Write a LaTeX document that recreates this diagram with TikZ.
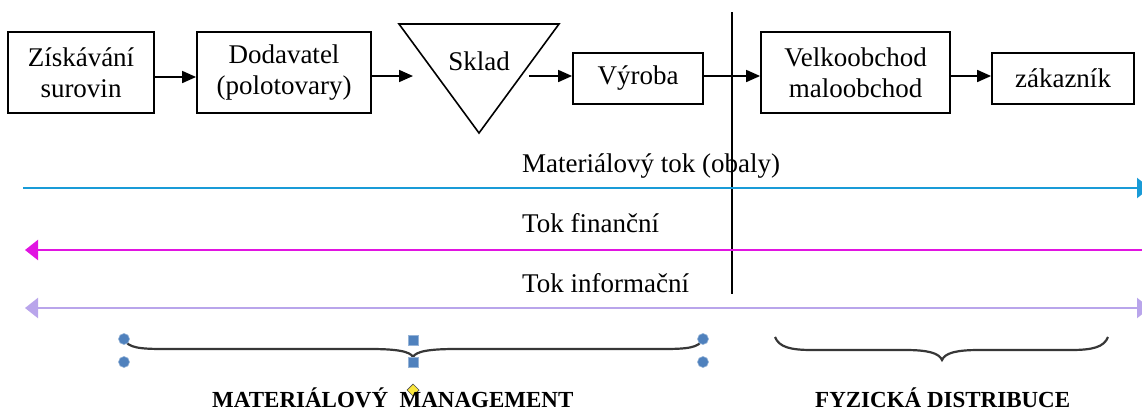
\documentclass[tikz,border=0pt]{standalone}
\usepackage{fontspec}
\setmainfont{Liberation Serif}
\usetikzlibrary{arrows.meta}
\definecolor{flowblue}{RGB}{25,155,215}
\definecolor{flowmag}{RGB}{225,20,225}
\definecolor{flowlav}{RGB}{185,165,235}
\definecolor{handleblue}{RGB}{79,129,189}
\definecolor{handleyellow}{RGB}{250,230,60}
\definecolor{bracegray}{RGB}{55,55,55}
\begin{document}
\begin{tikzpicture}[x=1pt,y=-1pt,
  txt/.style={font=\fontsize{27}{31}\selectfont, inner sep=0pt},
  stepbox/.style={draw, line width=1.8pt, inner sep=0pt, align=center,
    font=\fontsize{27}{31}\selectfont},
  arr/.style={line width=1.7pt, -{Triangle[length=14pt,width=12pt]}},
  flow/.style={line width=2.2pt},
  sectlabel/.style={font=\bfseries\fontsize{23}{26}\selectfont, inner sep=0pt},
  bracepath/.style={draw=bracegray, line width=2.2pt},
  handle/.style={fill=handleblue, draw=handleblue!60!white, line width=0.6pt}]
\useasboundingbox (0,0) rectangle (1142,410);

% process chain
\node[stepbox, minimum width=146pt, minimum height=81pt] (zisk) at (81,72.5) {Získávání\\surovin};
\node[stepbox, minimum width=174pt, minimum height=81pt] (dod) at (284,72.5) {Dodavatel\\(polotovary)};
\draw[line width=1.6pt] (399,24) -- (559,24) -- (479,133) -- cycle;
\node[txt, anchor=base] (sklad) at (479,70) {Sklad};
\coordinate (skin) at (413,76);
\coordinate (skout) at (529,76);
\node[stepbox, minimum width=130pt, minimum height=51pt] (vyr) at (638,78.5) {Výroba};
\node[stepbox, minimum width=189pt, minimum height=81pt] (velk) at (855.5,72.5) {Velkoobchod\\maloobchod};
\node[stepbox, minimum width=142pt, minimum height=51pt] (zak) at (1063,78.5) {zákazník};

\draw[arr] (zisk.east |- 0,77) -- (dod.west |- 0,77);
\draw[arr] (dod.east |- skin) -- (skin);
\draw[arr] (skout) -- (vyr.west |- skout);
\draw[arr] (vyr.east |- skout) -- (velk.west |- skout);
\draw[arr] (velk.east |- skout) -- (zak.west |- skout);

% divider between the two parts of the chain
\coordinate (divtop) at (732,12);
\coordinate (divbot) at (732,294);
\draw[line width=1.5pt] (divtop) -- (divbot);

% flows
\coordinate (bl) at (23,188);  \coordinate (br) at (1150,188);
\coordinate (ml) at (25,250);  \coordinate (mr) at (1145,250);
\coordinate (ll) at (25,308);  \coordinate (lr) at (1150,308);
\draw[flow, draw=flowblue, -{Triangle[length=13pt,width=20pt]}] (bl) -- (br);
\draw[flow, draw=flowmag, {Triangle[length=13pt,width=20pt]}-] (ml) -- (mr);
\draw[flow, draw=flowlav, {Triangle[length=13pt,width=20pt]}-{Triangle[length=13pt,width=20pt]}] (ll) -- (lr);

\node[txt, anchor=base west] (lmat) at (522,172) {Materiálový tok (obaly)};
\node[txt, anchor=base west] (lfin) at (522,232) {Tok finanční};
\node[txt, anchor=base west] (linf) at (522,292) {Tok informační};

% braces
\path[bracepath] (124,339) .. controls (128,348) and (140,349) .. (165,349)
  -- (370,349) .. controls (395,349) and (410,351) .. (413,357)
  .. controls (416,351) and (431,349) .. (456,349)
  -- (662,349) .. controls (687,349) and (699,348) .. (703,339);
\path[bracepath] (775,337) .. controls (779,347) and (790,350) .. (812,350)
  -- (905,350) .. controls (928,350) and (939,353) .. (942,360)
  .. controls (945,353) and (956,350) .. (979,350)
  -- (1071,350) .. controls (1093,350) and (1104,347) .. (1108,337);

% selection handles on the left brace
\path[handle] (124,339) circle (5.5pt) (124,362) circle (5.5pt)
  (703,339) circle (5.5pt) (703,362) circle (5.5pt);
\path[handle] (408,335) rectangle (418,345) (408,357) rectangle (418,367);
\path[fill=handleyellow, draw=black!70, line width=0.7pt]
  (413,384) -- (419,390) -- (413,396) -- (407,390) -- cycle;

\node[sectlabel, anchor=base west] (mm) at (212,407) {MATERIÁLOVÝ\ \ MANAGEMENT};
\node[sectlabel, anchor=base west] (fd) at (815,407) {FYZICKÁ DISTRIBUCE};
\end{tikzpicture}
\end{document}
